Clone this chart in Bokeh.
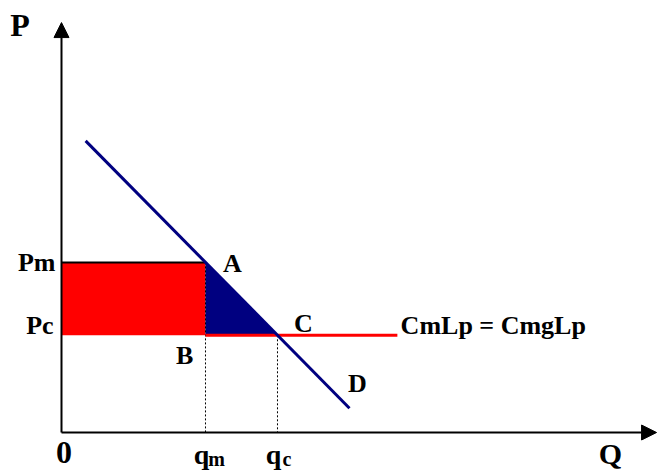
from bokeh.plotting import figure
from bokeh.models import Range1d, Arrow, NormalHead
from bokeh.core.properties import value
from bokeh.embed import file_html
from bokeh.resources import INLINE

# ---- data (economic units) ----
q_m = 4.0          # monopoly quantity
q_c = 6.0          # competitive quantity
P_m = 7.0          # monopoly price
P_c = 4.0          # competitive price
demand_q = [0.67, 8.0]
demand_p = [12.0, 1.0]
cost_q = [4.0, 9.33]     # CmLp = CmgLp line
cost_p = [4.0, 4.0]
q_axis_max = 16.53
p_axis_max = 16.87

FONT = value("Liberation Serif")

p = figure(width=657, height=470, x_range=Range1d(-1.6944, 16.556),
           y_range=Range1d(-1.5638, 17.778), output_backend="svg",
           toolbar_location=None, min_border=0)
p.axis.visible = False
p.grid.visible = False
p.outline_line_color = None
p.background_fill_color = "white"
p.border_fill_color = "white"

# red rectangle (monopoly profit)
p.quad(left=[0], right=[q_m], bottom=[P_c], top=[P_m], fill_color="#FF0000", line_color=None)
# deadweight loss triangle
p.patch([q_m, q_m, q_c], [P_m, P_c, P_c], fill_color="#000080", line_color=None)
# top edge Pm line
p.line([0, q_m], [P_m, P_m], line_color="black", line_width=2)
# dotted verticals
p.line([q_m, q_m], [P_m, 0], line_color="black", line_width=1, line_dash="2 2")
p.line([q_c, q_c], [P_c, 0], line_color="black", line_width=1, line_dash="2 2")
# cost line
p.line(cost_q, cost_p, line_color="#FF0000", line_width=3)
# demand
p.line(demand_q, demand_p, line_color="#000080", line_width=3)

# axes with arrowheads
p.add_layout(Arrow(end=NormalHead(size=15, fill_color="black", line_color="black", line_width=1),
                   x_start=0, y_start=0, x_end=0, y_end=p_axis_max,
                   line_color="black", line_width=2))
p.add_layout(Arrow(end=NormalHead(size=15, fill_color="black", line_color="black", line_width=1),
                   x_start=0, y_start=0, x_end=q_axis_max, y_end=0,
                   line_color="black", line_width=2))

def label(x, y, t, size, align="center", baseline="middle"):
    p.text(x=[x], y=[y], text=[t], text_font=FONT, text_font_style="bold",
           text_font_size=f"{size}px", text_align=align, text_baseline=baseline,
           text_color="black")

label(-1.153, 16.79, "P", 32)
label(-0.167, 7.0, "Pm", 26, align="right")
label(-0.22, 4.40, "Pc", 26, align="right")
label(4.75, 6.95, "A", 26)
label(3.42, 3.17, "B", 26)
label(6.72, 4.49, "C", 26)
label(8.22, 2.02, "D", 26)
label(9.42, 4.40, "CmLp = CmgLp", 26, align="left")
label(0.07, -0.82, "0", 32)
label(15.25, -0.86, "Q", 30)
# q_m and q_c with subscripts
label(3.89, -0.90, "q", 28)
label(4.08, -1.08, "m", 20, align="left")
label(5.89, -0.90, "q", 28)
label(6.14, -1.08, "c", 20, align="left")

open("out.html", "w").write(file_html(p, INLINE))
